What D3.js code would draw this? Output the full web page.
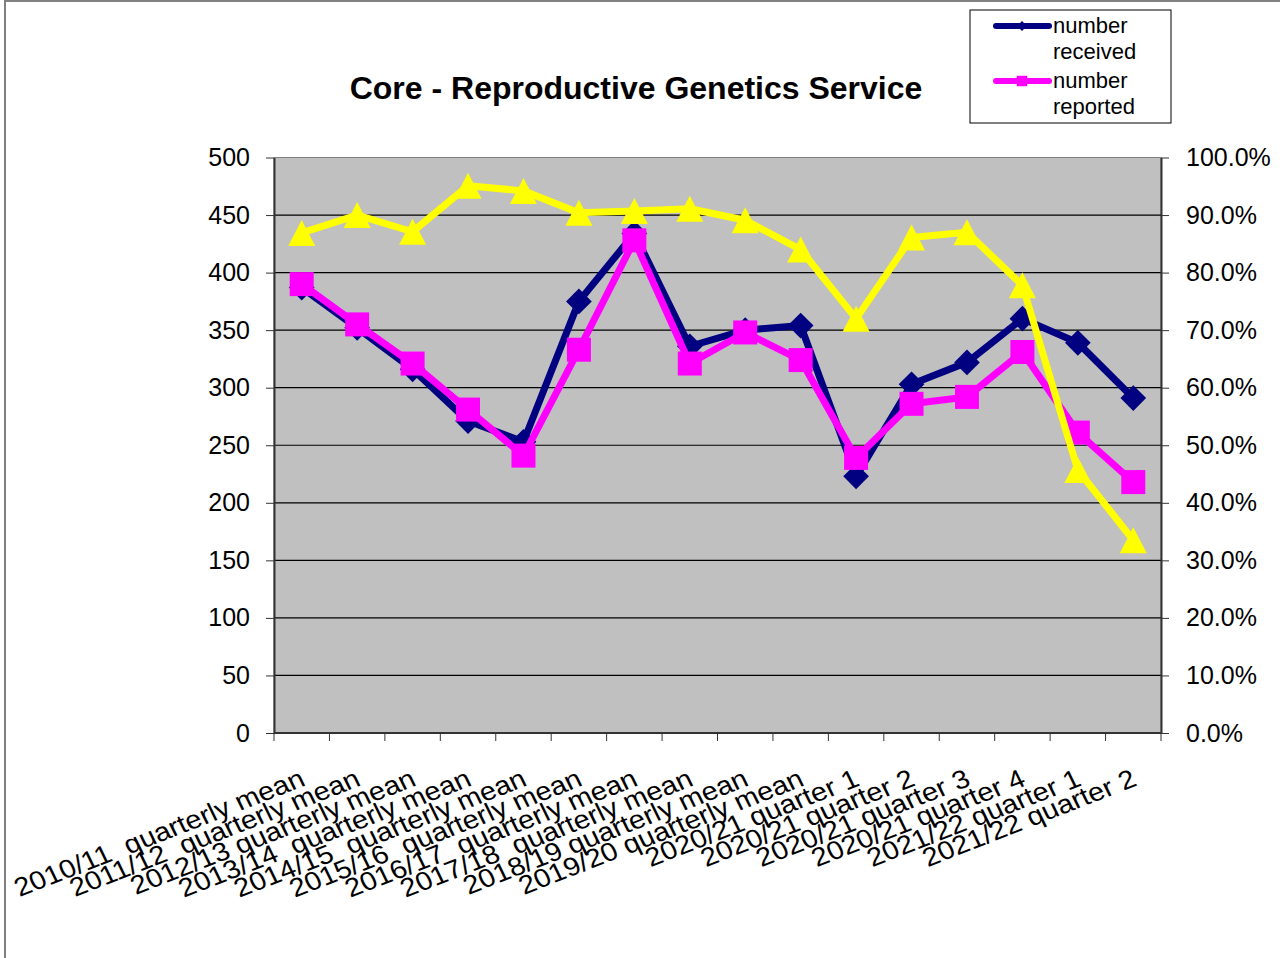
<!doctype html>
<html>
<head>
<meta charset="UTF-8">
<title>Core - Reproductive Genetics Service</title>
<script src="https://d3js.org/d3.v7.min.js"></script>
<style>
  body { margin: 0; background: #fff; }
  svg text { font-family: "Liberation Sans", Arial, sans-serif; }
</style>
</head>
<body>
<svg id="chart" width="1280" height="958"></svg>
<script>
// data
var categories = [
  "2010/11  quarterly mean", "2011/12  quarterly mean", "2012/13 quarterly mean",
  "2013/14  quarterly mean", "2014/15  quarterly mean", "2015/16  quarterly mean",
  "2016/17  quarterly mean", "2017/18  quarterly mean", "2018/19 quarterly mean",
  "2019/20 quarterly mean", "2020/21 quarter 1", "2020/21 quarter 2",
  "2020/21 quarter 3", "2020/21 quarter 4", "2021/22 quarter 1", "2021/22 quarter 2"
];
var received = [387, 352, 316, 271, 253, 375, 434, 336, 350, 354, 223, 303, 322, 360, 339, 291];
var reported = [390, 355, 321, 281, 241, 333, 428, 321, 348, 324, 239, 286, 292, 331, 261, 218];
var percentReported = [0.869, 0.900, 0.871, 0.951, 0.942, 0.904, 0.907, 0.911, 0.891, 0.840,
                       0.720, 0.861, 0.870, 0.778, 0.457, 0.335];
var yTicks = [0, 50, 100, 150, 200, 250, 300, 350, 400, 450, 500];
var y2Ticks = [0, 0.1, 0.2, 0.3, 0.4, 0.5, 0.6, 0.7, 0.8, 0.9, 1.0];
var legendNames = [["number", "received"], ["number", "reported"]];

var svg = d3.select("#chart");

var plotLeft = 274, plotRight = 1161, plotTop = 157.5, plotBottom = 733;

var x = d3.scaleBand().domain(categories).range([plotLeft, plotRight]);
var y = d3.scaleLinear().domain([0, 500]).range([plotBottom, plotTop]);
var y2 = d3.scaleLinear().domain([0, 1]).range([plotBottom, plotTop]);
var cx = function(d, i) { return x(categories[i]) + x.bandwidth() / 2; };

// outer frame
svg.append("rect")
  .attr("x", 5).attr("y", 1).attr("width", 1290).attr("height", 970)
  .attr("fill", "#fff").attr("stroke", "#808080").attr("stroke-width", 2);

// title
svg.append("text")
  .attr("x", 636).attr("y", 99)
  .attr("text-anchor", "middle")
  .attr("font-size", 32).attr("font-weight", "bold")
  .text("Core - Reproductive Genetics Service");

// plot area
svg.append("rect")
  .attr("x", plotLeft).attr("y", plotTop)
  .attr("width", plotRight - plotLeft).attr("height", plotBottom - plotTop)
  .attr("fill", "#c0c0c0").attr("stroke", "#808080");

svg.append("g").selectAll("line")
  .data(yTicks.slice(1, -1))
  .enter().append("line")
  .attr("x1", plotLeft).attr("x2", plotRight)
  .attr("y1", function(d) { return y(d); })
  .attr("y2", function(d) { return y(d); })
  .attr("stroke", "#000").attr("stroke-width", 1.2);

// axes
var gy = svg.append("g")
  .attr("transform", "translate(" + plotLeft + ",0)")
  .call(d3.axisLeft(y).tickValues(yTicks).tickSize(8).tickSizeOuter(0).tickPadding(16));
var gy2 = svg.append("g")
  .attr("transform", "translate(" + plotRight + ",0)")
  .call(d3.axisRight(y2).tickValues(y2Ticks).tickSize(8).tickSizeOuter(0).tickPadding(17)
    .tickFormat(d3.format(".1%")));
[gy, gy2].forEach(function(g) {
  g.selectAll("text").attr("font-size", 25).attr("fill", "#000")
    .style("font-family", "'Liberation Sans', Arial, sans-serif");
  g.selectAll("line").attr("stroke", "#333");
  g.select(".domain").attr("stroke", "#333").attr("stroke-width", 2);
});

// x axis
svg.append("line")
  .attr("x1", plotLeft).attr("x2", plotRight).attr("y1", plotBottom).attr("y2", plotBottom)
  .attr("stroke", "#333").attr("stroke-width", 2);
svg.append("g").selectAll("line")
  .data(d3.range(categories.length + 1))
  .enter().append("line")
  .attr("x1", function(i) { return plotLeft + i * x.step(); })
  .attr("x2", function(i) { return plotLeft + i * x.step(); })
  .attr("y1", plotBottom).attr("y2", plotBottom + 8)
  .attr("stroke", "#333");

svg.append("g").selectAll("text")
  .data(categories)
  .enter().append("text")
  .attr("transform", function(d, i) {
    return "translate(" + (cx(d, i) + 5) + "," + 785 + ") scale(1.12,1) rotate(-23.6)";
  })
  .attr("text-anchor", "end")
  .attr("font-size", 26)
  .style("white-space", "pre")
  .text(function(d) { return d; });

// series
var lineLeft = d3.line().x(cx).y(function(d) { return y(d); });
var lineRight = d3.line().x(cx).y(function(d) { return y2(d); });

var diamond = d3.symbol().type(d3.symbolSquare).size(330);
var square = d3.symbol().type(d3.symbolSquare).size(576);
var triangle = "M0,-13L13.5,13L-13.5,13Z";

svg.append("path").datum(received)
  .attr("d", lineLeft).attr("fill", "none")
  .attr("stroke", "#000080").attr("stroke-width", 7).attr("stroke-linejoin", "round");
svg.append("g").selectAll("path")
  .data(received).enter().append("path")
  .attr("d", diamond)
  .attr("transform", function(d, i) { return "translate(" + cx(d, i) + "," + y(d) + ") rotate(45)"; })
  .attr("fill", "#000080");

svg.append("path").datum(reported)
  .attr("d", lineLeft).attr("fill", "none")
  .attr("stroke", "#ff00ff").attr("stroke-width", 7).attr("stroke-linejoin", "round");
svg.append("g").selectAll("path")
  .data(reported).enter().append("path")
  .attr("d", square)
  .attr("transform", function(d, i) { return "translate(" + cx(d, i) + "," + y(d) + ")"; })
  .attr("fill", "#ff00ff");

svg.append("path").datum(percentReported)
  .attr("d", lineRight).attr("fill", "none")
  .attr("stroke", "#ffff00").attr("stroke-width", 7).attr("stroke-linejoin", "round");
svg.append("g").selectAll("path")
  .data(percentReported).enter().append("path")
  .attr("d", triangle)
  .attr("transform", function(d, i) { return "translate(" + cx(d, i) + "," + y2(d) + ")"; })
  .attr("fill", "#ffff00");

// legend
var legend = svg.append("g");
legend.append("rect")
  .attr("x", 970).attr("y", 10).attr("width", 201).attr("height", 113)
  .attr("fill", "#fff").attr("stroke", "#000");
var legendColors = ["#000080", "#ff00ff"];
var legendMarks = [d3.symbol().type(d3.symbolSquare).size(50), d3.symbol().type(d3.symbolSquare).size(110)];
legendNames.forEach(function(names, i) {
  var ly = 26 + i * 55;
  legend.append("line")
    .attr("x1", 996).attr("x2", 1049).attr("y1", ly).attr("y2", ly)
    .attr("stroke", legendColors[i]).attr("stroke-width", 6).attr("stroke-linecap", "round");
  legend.append("path")
    .attr("d", legendMarks[i])
    .attr("transform", "translate(1022," + ly + ")" + (i === 0 ? " rotate(45)" : ""))
    .attr("fill", legendColors[i]);
  names.forEach(function(t, j) {
    legend.append("text")
      .attr("x", 1053).attr("y", ly + 7 + j * 26)
      .attr("font-size", 22)
      .text(t);
  });
});
</script>
</body>
</html>
